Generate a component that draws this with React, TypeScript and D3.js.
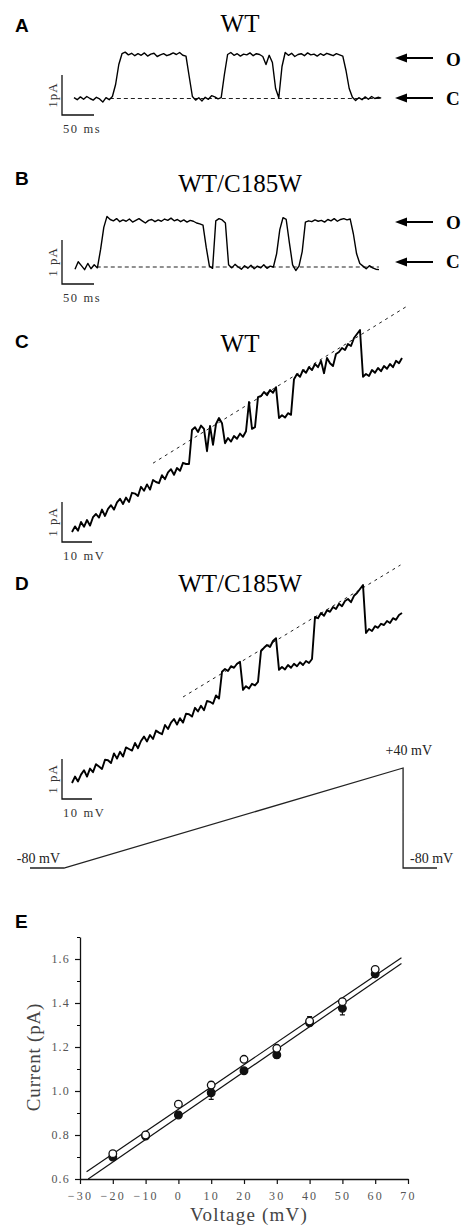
import React, { useEffect, useRef } from 'react';
import * as d3 from 'd3';

// A: WT single channel record, pA, one sample every 5 ms
const traceA = [
  0.02, -0.03, 0.04, -0.02, 0.05, 0.0, -0.04, 0.03, -0.01, -0.09, 0.02, -0.03, 0.05,
  0.35, 0.85,
  1.12, 1.16, 1.09, 1.13, 1.07, 1.12, 1.08, 1.14, 1.06, 1.11, 1.13, 1.05, 1.09, 1.12, 1.07, 1.1, 1.14, 1.1, 1.15, 1.08, 1.06,
  0.55,
  0.05, -0.04, 0.02, -0.06, 0.03, -0.02, 0.07, 0.04, -0.01, 0.02,
  0.6,
  1.1, 1.15, 1.08, 1.12, 1.06, 1.11, 1.09, 1.14, 1.07, 1.12, 1.1, 1.05,
  0.85, 1.08, 0.9, 0.25, 0.02, 0.8,
  1.15, 1.08, 1.13, 1.05, 1.1, 1.12, 1.07, 1.14, 1.09, 1.11, 1.06, 1.12, 1.08, 1.13, 1.1, 1.07, 1.12, 1.09, 1.06,
  0.7, 0.25,
  0.03, -0.05, 0.02, -0.03, 0.04, -0.02, 0.05, 0.0, 0.03, 0.01,
];

// B: WT/C185W single channel record, pA, one sample every 5 ms
const traceB = [
  -0.05, 0.12, 0.03, -0.06, 0.08, -0.04, 0.05, -0.02,
  0.4, 0.9, 1.15, 1.08,
  1.05, 1.1, 1.03, 1.07, 1.04, 1.09, 1.02, 1.06, 1.1, 1.05, 1.0, 1.06, 1.08, 1.03, 1.07, 1.04, 1.09, 1.06, 1.11, 1.05, 1.08, 1.03, 1.07, 1.02, 1.06, 1.04, 1.0, 0.98,
  0.95, 0.45, 0.02,
  -0.03,
  1.05, 1.1, 1.07, 1.0,
  0.05, -0.02, 0.06, 0.0, -0.05, 0.03, -0.03, 0.04, -0.04, 0.02, -0.02, 0.05, -0.03, 0.02, 0.0,
  0.3, 0.85, 1.12, 1.08, 0.55, 0.05,
  -0.08, 0.02,
  0.35, 1.02,
  1.05, 1.03, 1.07, 1.04, 1.06, 1.02, 1.08, 1.05, 1.1, 1.04, 1.08, 1.1, 1.07, 1.09,
  0.75, 0.3, 0.08,
  0.02, -0.04, 0.03, -0.02, -0.05, -0.06,
];
const sampleMs = 5;
const closedLineA = [56, 480]; // ms
const closedLineB = [34, 475];

// C, D: ramp currents, pA, one sample per mV from -70 mV
const rampStartMv = -70;
const traceC = [
  0.0, 0.14, 0.03, 0.25, 0.13, 0.3, 0.16, 0.37, 0.45, 0.36, 0.56, 0.4, 0.58, 0.67, 0.56, 0.74, 0.83, 0.7, 0.86, 0.75,
  0.98, 0.96, 0.9, 1.13, 1.03, 1.19, 1.06, 1.3, 1.25, 1.22, 1.42, 1.32, 1.49, 1.57, 1.43, 1.6, 1.53, 1.73, 1.7, 1.7,
  2.55, 2.62, 2.5, 2.66, 2.58, 2.02, 2.65, 2.18, 2.7, 2.85, 2.72, 2.22,
  2.35, 2.26, 2.4, 2.33, 2.46, 2.38, 2.52,
  3.25, 2.58, 2.62, 3.37,
  3.4, 3.5, 3.42, 3.55, 3.48, 3.62,
  2.85,
  2.92, 2.86, 2.97, 2.93,
  3.82,
  3.95, 3.88, 4.05, 3.98, 4.12, 4.05, 4.2, 4.12, 4.28, 3.97, 4.35, 4.22, 4.15, 4.45, 4.5, 4.6, 4.55, 4.7, 4.65, 4.85, 4.95, 5.05,
  3.88,
  3.95, 3.9, 4.05, 3.98, 4.1, 4.02, 4.15, 4.08, 4.2, 4.12, 4.28, 4.22, 4.35,
];
const traceD = [
  0.0, 0.16, 0.04, 0.21, 0.32, 0.16, 0.36, 0.27, 0.47, 0.41, 0.35, 0.58, 0.57, 0.5, 0.74, 0.61, 0.78, 0.66, 0.89, 0.85,
  0.81, 1.0, 0.87, 1.05, 1.16, 1.04, 1.2, 1.1, 1.31, 1.26, 1.22, 1.45, 1.35, 1.51, 1.6, 1.46, 1.62, 1.51, 1.73, 1.72,
  1.66, 1.88, 1.79, 1.93, 1.82, 2.05, 2.03, 1.98, 2.19, 2.11,
  2.78, 2.85, 2.8, 2.92, 2.88, 2.98, 3.03,
  2.33,
  2.42, 2.36, 2.48, 2.44, 2.53,
  3.3,
  3.38, 3.45, 3.4, 3.55, 3.62,
  2.83,
  2.9, 2.84, 2.95, 2.88, 2.98, 2.92, 3.02, 2.95, 3.05, 3.0, 3.1,
  4.15,
  4.12, 4.25, 4.18, 4.32, 4.28, 4.4, 4.35, 4.48, 4.42, 4.55, 4.6, 4.52, 4.68, 4.75, 4.85, 4.95,
  3.75,
  3.85, 3.8, 3.92, 3.88, 3.98, 3.95, 4.05, 4.0, 4.12, 4.08, 4.2, 4.25,
];
const openLineCMv = [-43, 42];
const openLineC = [1.72, 5.66];
const openLineDMv = [-33, 39.5];
const openLineD = [2.15, 5.45];

// ramp protocol
const protocolMs = [0, 10, 110, 110, 120];
const protocolMv = [-80, -80, 40, -80, -80];

// E: I-V relation
const voltages = [-20, -10, 0, 10, 20, 30, 40, 50, 60];
const wtCurrent = [0.715, 0.8, 0.94, 1.027, 1.144, 1.194, 1.318, 1.406, 1.553];
const wtError = [0.01, 0.01, 0.01, 0.015, 0.01, 0.01, 0.02, 0.01, 0.01];
const mutCurrent = [0.7, 0.795, 0.891, 0.992, 1.092, 1.164, 1.31, 1.376, 1.532];
const mutError = [0.01, 0.01, 0.01, 0.03, 0.01, 0.015, 0.01, 0.03, 0.015];
const fitSlope = [0.01013, 0.01026];
const fitIntercept = [0.917, 0.882];
const fitStart = [-28, -27.5];
const fitEnd = 68;
const xTicks = [-30, -20, -10, 0, 10, 20, 30, 40, 50, 60, 70];
const yTicks = [0.6, 0.8, 1.0, 1.2, 1.4, 1.6];
const yMinorTicks = [0.7, 0.9, 1.1, 1.3, 1.5, 1.7];

const serif = '"Liberation Serif", "Times New Roman", serif';
const sans = '"Liberation Sans", Arial, sans-serif';

const App = () => {
  const svgRef = useRef<SVGSVGElement>(null);

  useEffect(() => {
    const svg = d3.select(svgRef.current);
    svg.selectAll('*').remove();

    const letter = (t: string, y: number) =>
      svg.append('text').attr('x', 15).attr('y', y).text(t)
        .attr('font-family', sans).attr('font-weight', 'bold').attr('font-size', 19);

    const title = (t: string, y: number) =>
      svg.append('text').attr('x', 240).attr('y', y).attr('text-anchor', 'middle')
        .attr('font-family', serif).attr('font-size', 25).text(t);

    // L shaped scale bar with its two labels
    const scaleBar = (x0: number, yb: number, w: number, h: number, yLab: string, xLab: string, xLabY: number) => {
      svg.append('path').attr('d', `M${x0},${yb - h}V${yb}H${x0 + w}`)
        .attr('fill', 'none').attr('stroke', '#111').attr('stroke-width', 1.3);
      svg.append('text').attr('transform', `translate(${x0 - 5},${yb - h / 2}) rotate(-90)`)
        .attr('text-anchor', 'middle').attr('font-family', serif).attr('font-size', 13)
        .attr('letter-spacing', 1).attr('fill', '#333').text(yLab);
      svg.append('text').attr('x', x0 + 1).attr('y', xLabY).attr('font-family', serif)
        .attr('font-size', 12.5).attr('letter-spacing', 1.6).attr('fill', '#333').text(xLab);
    };

    const stateArrow = (y: number, lab: string, labY: number) => {
      svg.append('line').attr('x1', 402).attr('x2', 433).attr('y1', y).attr('y2', y)
        .attr('stroke', '#000').attr('stroke-width', 2);
      svg.append('path').attr('d', `M395,${y}L407,${y - 4.5}L407,${y + 4.5}Z`).attr('fill', '#000');
      svg.append('text').attr('x', 446).attr('y', labY).attr('font-family', serif)
        .attr('font-weight', 'bold').attr('font-size', 19).text(lab);
    };

    // ---------- A and B: single channel records ----------
    const timePanel = (data: number[], closedLine: number[], x0: number, yBase: number, pxPerPa: number) => {
      const x = d3.scaleLinear().domain([0, 50]).range([x0, x0 + 32]);
      const y = d3.scaleLinear().domain([0, 1]).range([yBase, yBase - pxPerPa]);
      svg.append('path')
        .attr('d', d3.line<number>()([[x(closedLine[0]), y(0)], [x(closedLine[1]), y(0)]]))
        .attr('stroke', '#222').attr('stroke-width', 1.1).attr('stroke-dasharray', '4,3');
      svg.append('path').datum(data)
        .attr('d', d3.line<number>().x((d, i) => x(i * sampleMs)).y((d) => y(d)))
        .attr('fill', 'none').attr('stroke', '#000').attr('stroke-width', 1.4).attr('stroke-linejoin', 'round');
      return { x, y };
    };

    letter('A', 32);
    title('WT', 32);
    const a = timePanel(traceA, closedLineA, 74, 98.5, 40);
    scaleBar(62, 115, a.x(50) - a.x(0), a.y(0) - a.y(1), '1pA', '50 ms', 133);
    stateArrow(58, 'O', 66);
    stateArrow(98, 'C', 105);

    letter('B', 185);
    title('WT/C185W', 192);
    const b = timePanel(traceB, closedLineB, 75, 267, 44);
    scaleBar(62, 284, b.x(50) - b.x(0), b.y(0) - b.y(1), '1 pA', '50 ms', 302);
    stateArrow(222, 'O', 229);
    stateArrow(262, 'C', 268);

    // ---------- C and D: ramp records ----------
    const rampPanel = (data: number[], lineMv: number[], lineI: number[], yBase: number) => {
      const x = d3.scaleLinear().domain([rampStartMv, 40]).range([72, 402]);
      const y = d3.scaleLinear().domain([0, 1]).range([yBase, yBase - 40]);
      svg.append('path')
        .attr('d', d3.line<number>()([[x(lineMv[0]), y(lineI[0])], [x(lineMv[1]), y(lineI[1])]]))
        .attr('stroke', '#222').attr('stroke-width', 1).attr('stroke-dasharray', '3,4');
      svg.append('path').datum(data)
        .attr('d', d3.line<number>().x((d, i) => x(rampStartMv + i)).y((d) => y(d)))
        .attr('fill', 'none').attr('stroke', '#000').attr('stroke-width', 1.9).attr('stroke-linejoin', 'round');
      return { x, y };
    };

    letter('C', 348);
    title('WT', 352);
    const c = rampPanel(traceC, openLineCMv, openLineC, 532);
    scaleBar(62, 542, c.x(-60) - c.x(-70), c.y(0) - c.y(1), '1 pA', '10 mV', 560);

    letter('D', 590);
    title('WT/C185W', 592);
    const dd = rampPanel(traceD, openLineDMv, openLineD, 783);
    scaleBar(62, 799, dd.x(-60) - dd.x(-70), dd.y(0) - dd.y(1), '1 pA', '10 mV', 817);

    // voltage protocol
    const px = d3.scaleLinear().domain([0, 120]).range([30, 437]);
    const py = d3.scaleLinear().domain([-80, 40]).range([868, 768]);
    svg.append('path').datum(protocolMs.map((t, i) => [t, protocolMv[i]] as [number, number]))
      .attr('d', d3.line().x((d) => px(d[0])).y((d) => py(d[1])))
      .attr('fill', 'none').attr('stroke', '#222').attr('stroke-width', 1.3);
    const protoLabel = (t: string, x: number, y: number, anchor: string) =>
      svg.append('text').attr('x', x).attr('y', y).attr('text-anchor', anchor)
        .attr('font-family', serif).attr('font-size', 14).attr('fill', '#222').text(t);
    protoLabel('+40 mV', 432, 755, 'end');
    protoLabel('-80 mV', 60, 863, 'end');
    protoLabel('-80 mV', 410, 863, 'start');

    // ---------- E: I-V plot ----------
    letter('E', 928);
    const x = d3.scaleLinear().domain([-30, 70]).range([80, 408]);
    const y = d3.scaleLinear().domain([0.6, 1.7]).range([1179, 937]);

    const xAxis = svg.append('g').attr('transform', `translate(0,${y(0.6)})`)
      .call(d3.axisBottom(x).tickValues(xTicks).tickSize(5).tickSizeOuter(0).tickPadding(7).tickFormat(d3.format('d')));
    const yAxis = svg.append('g').attr('transform', `translate(${x(-30)},0)`)
      .call(d3.axisLeft(y).tickValues(yTicks).tickSize(5).tickSizeOuter(0).tickPadding(5).tickFormat(d3.format('.1f')));
    svg.append('g').attr('transform', `translate(${x(-30)},0)`)
      .call(d3.axisLeft(y).tickValues(yMinorTicks).tickSize(3).tickSizeOuter(0).tickFormat(() => ''))
      .select('.domain').remove();
    [xAxis, yAxis].forEach((g) => {
      g.select('.domain').attr('stroke', '#111').attr('stroke-width', 1.3);
      g.selectAll('.tick line').attr('stroke', '#111').attr('stroke-width', 1.2);
      g.selectAll('.tick text').attr('font-family', serif).attr('font-size', 12).attr('fill', '#555');
    });
    xAxis.selectAll('.tick text').attr('letter-spacing', 2.2);
    yAxis.selectAll('.tick text').attr('letter-spacing', 1.2);

    svg.append('text').attr('transform', `translate(40,${1057}) rotate(-90)`).attr('text-anchor', 'middle')
      .attr('font-family', serif).attr('font-size', 19).attr('fill', '#444').attr('letter-spacing', 0.8)
      .text('Current (pA)');
    svg.append('text').attr('x', 249).attr('y', 1221).attr('text-anchor', 'middle')
      .attr('font-family', serif).attr('font-size', 19).attr('fill', '#444').attr('letter-spacing', 1.2)
      .text('Voltage (mV)');

    // fit lines
    fitSlope.forEach((s, k) => {
      const ends = [fitStart[k], fitEnd];
      svg.append('path')
        .attr('d', d3.line<number>().x((v) => x(v)).y((v) => y(fitIntercept[k] + s * v))(ends))
        .attr('stroke', '#111').attr('stroke-width', 1.2).attr('fill', 'none');
    });

    const series = (vals: number[], errs: number[], filled: boolean) => {
      const g = svg.append('g');
      g.selectAll('line.err').data(voltages).enter().append('path')
        .attr('d', (v, i) => {
          const cx = x(v), y0 = y(vals[i] - errs[i]), y1 = y(vals[i] + errs[i]);
          return `M${cx},${y0}V${y1}M${cx - 2.5},${y0}H${cx + 2.5}M${cx - 2.5},${y1}H${cx + 2.5}`;
        })
        .attr('stroke', '#111').attr('stroke-width', 1.1).attr('fill', 'none');
      g.selectAll('circle').data(voltages).enter().append('circle')
        .attr('cx', (v) => x(v)).attr('cy', (v, i) => y(vals[i])).attr('r', 3.8)
        .attr('fill', filled ? '#111' : '#fff').attr('stroke', '#111').attr('stroke-width', 1.3);
    };
    series(mutCurrent, mutError, true);
    series(wtCurrent, wtError, false);
  }, []);

  return (
    <svg ref={svgRef} width={464} height={1227}
      style={{ position: 'absolute', left: 0, top: 0, background: '#fff', display: 'block' }} />
  );
};

export default App;
